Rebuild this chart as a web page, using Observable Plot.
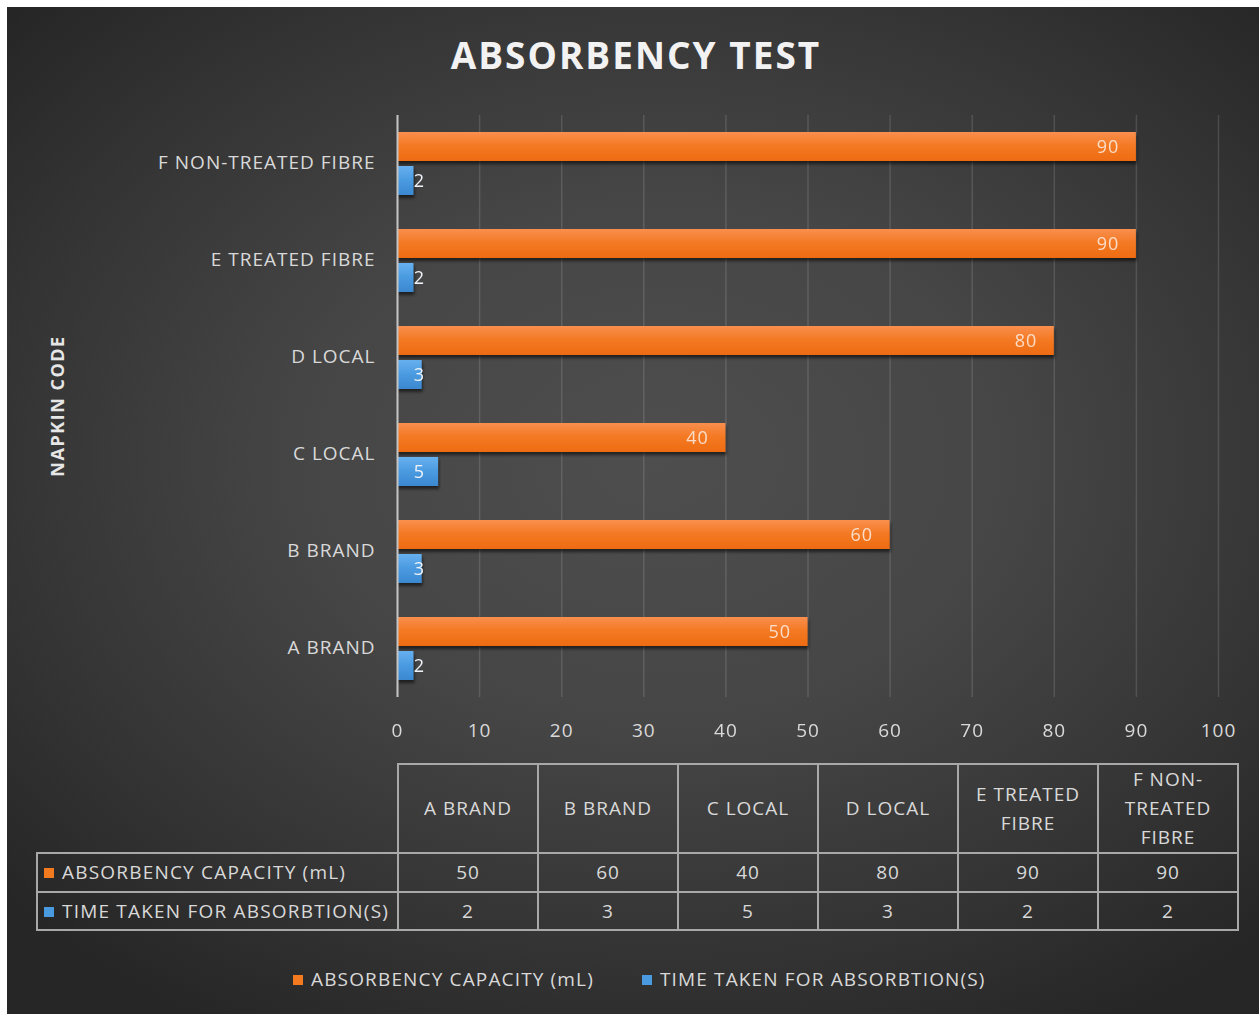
<!DOCTYPE html>
<html>
<head>
<meta charset="utf-8">
<script src="https://cdn.jsdelivr.net/npm/d3@7"></script>
<script src="https://cdn.jsdelivr.net/npm/@observablehq/plot@0.6"></script>
<style>
  html, body { margin: 0; padding: 0; background: #ffffff; }
  #chart {
    position: absolute; left: 7px; top: 7px; width: 1252px; height: 1007px; overflow: hidden;
    background: radial-gradient(ellipse 70% 65% at 52% 45%, #4e4e4e 0%, #464646 40%, #343434 75%, #262626 100%);
    font-family: "Open Sans", sans-serif; color: #d9d9d9;
  }
  #title {
    position: absolute; left: 0; width: 1258px; top: 26px; text-align: center;
    font-size: 37px; font-weight: 700; color: #f2f2f2; letter-spacing: 2px; line-height: 44px;
  }
  #ytitle {
    position: absolute; left: 50px; top: 399px; width: 0; height: 0;
  }
  #ytitle span {
    position: absolute; transform: translate(-50%, -50%) rotate(-90deg); white-space: nowrap;
    font-size: 18px; font-weight: 700; color: #e6e6e6; letter-spacing: 1.5px;
  }
  #plot { position: absolute; left: 0; top: 85px; }
  #table {
    position: absolute; left: 29px; top: 756px; border-collapse: collapse; table-layout: fixed;
    font-size: 19px; color: #d9d9d9; letter-spacing: 1px;
  }
  #table td { border: 2px solid #a8a8a8; text-align: center; padding: 0 6px; line-height: 29px; }
  #table td.corner { border-top: none; border-left: none; }
  #table tr.head td { height: 86px; }
  #table tr.r1 td { height: 37px; }
  #table tr.r2 td { height: 36px; }
  #table td.lab { text-align: left; padding-left: 6px; white-space: nowrap; letter-spacing: 1.2px; }
  .sw { display: inline-block; width: 10px; height: 10px; margin-right: 8px; vertical-align: 1px; }
  #legend {
    position: absolute; left: 286px; top: 958px; font-size: 19px; color: #d9d9d9; white-space: nowrap;
    line-height: 28px; letter-spacing: 1.15px;
  }
  #legend .item { display: inline-block; margin-right: 48px; }
</style>
</head>
<body>
<div id="chart">
  <div id="title"></div>
  <div id="ytitle"><span></span></div>
  <div id="plot"></div>
  <table id="table"></table>
  <div id="legend"></div>
</div>
<script>
// ---- data ----
const categories = ["A BRAND", "B BRAND", "C LOCAL", "D LOCAL", "E TREATED FIBRE", "F NON-TREATED FIBRE"];
const absorbency = [50, 60, 40, 80, 90, 90];
const timeTaken = [2, 3, 5, 3, 2, 2];
const seriesNames = ["ABSORBENCY CAPACITY (mL)", "TIME TAKEN FOR ABSORBTION(S)"];
const seriesKeys = ["cap", "time"];
const xTicks = [0, 10, 20, 30, 40, 50, 60, 70, 80, 90, 100];
const titleText = "ABSORBENCY TEST";
const yTitle = "NAPKIN CODE";

const orange = "#f47a20";
const blue = "#4a9ae0";

const data = categories.flatMap((c, i) => [
  {cat: c, s: "cap", v: absorbency[i]},
  {cat: c, s: "time", v: timeTaken[i]}
]);

document.getElementById("title").textContent = titleText;
document.querySelector("#ytitle span").textContent = yTitle;

const plot = Plot.plot({
  width: 1252,
  height: 650,
  marginLeft: 390,
  marginRight: 41,
  marginTop: 22,
  marginBottom: 45,
  style: {background: "transparent", color: "#d9d9d9", fontFamily: "Open Sans, sans-serif", fontSize: "19px", letterSpacing: "1px", overflow: "visible"},
  x: {domain: [0, 100]},
  fy: {domain: categories.slice().reverse(), padding: 0, label: null},
  y: {domain: seriesKeys, paddingInner: 0.145, paddingOuter: 0.483, axis: null},
  marks: [
    Plot.gridX(xTicks, {stroke: "#ffffff", strokeOpacity: 0.13, strokeWidth: 1.5}),
    Plot.barX(data.filter(d => d.s === "cap"), {y: "s", x: "v", fy: "cat", fill: "url(#gradO)"}),
    Plot.barX(data.filter(d => d.s === "time"), {y: "s", x: "v", fy: "cat", fill: "url(#gradB)"}),
    Plot.ruleX([0], {stroke: "#c4c4c4", strokeWidth: 2}),
    Plot.text(data.filter(d => d.s === "cap"), {y: "s", x: "v", fy: "cat", text: d => String(d.v), textAnchor: "end", dx: -17, fill: "#fbdcc6", fontSize: 18}),
    Plot.text(data.filter(d => d.s === "time"), {y: "s", x: 0, fy: "cat", text: d => String(d.v), textAnchor: "middle", dx: 22, fill: "#eef3fa", fontSize: 18}),
    Plot.axisFy({anchor: "left", tickSize: 0, tickPadding: 22, label: null, fontSize: 19, fill: "#d9d9d9", dy: -1}),
    Plot.axisX(xTicks, {anchor: "bottom", tickSize: 0, tickPadding: 26, label: null, fontSize: 19, fill: "#d9d9d9"})
  ]
});

// gradients and shadows
const svg = d3.select(plot);
const defs = svg.insert("defs", ":first-child");
const gO = defs.append("linearGradient").attr("id", "gradO").attr("x1", 0).attr("y1", 0).attr("x2", 0).attr("y2", 1);
gO.append("stop").attr("offset", "0%").attr("stop-color", "#f98f4e");
gO.append("stop").attr("offset", "45%").attr("stop-color", "#f47a25");
gO.append("stop").attr("offset", "100%").attr("stop-color", "#ee6b10");
const gB = defs.append("linearGradient").attr("id", "gradB").attr("x1", 0).attr("y1", 0).attr("x2", 0).attr("y2", 1);
gB.append("stop").attr("offset", "0%").attr("stop-color", "#67b0ef");
gB.append("stop").attr("offset", "50%").attr("stop-color", "#4a9ae0");
gB.append("stop").attr("offset", "100%").attr("stop-color", "#3b88d0");
const f = defs.append("filter").attr("id", "shadow").attr("x", "-5%").attr("y", "-20%").attr("width", "110%").attr("height", "160%");
f.append("feDropShadow").attr("dx", 1).attr("dy", 3).attr("stdDeviation", 1.5).attr("flood-color", "#000").attr("flood-opacity", 0.55);
svg.selectAll('g[aria-label="bar"]').attr("filter", "url(#shadow)");

document.getElementById("plot").appendChild(plot);

// data table
const table = d3.select("#table");
const colgroup = table.append("colgroup");
colgroup.append("col").style("width", "361px");
categories.forEach(() => colgroup.append("col").style("width", "140px"));
const head = table.append("tr").attr("class", "head");
head.append("td").attr("class", "corner");
categories.forEach(c => head.append("td").text(c));
const seriesVals = [absorbency, timeTaken];
const seriesColors = [orange, blue];
seriesNames.forEach((name, k) => {
  const tr = table.append("tr").attr("class", "r" + (k + 1));
  const td = tr.append("td").attr("class", "lab");
  td.append("span").attr("class", "sw").style("background", seriesColors[k]);
  td.append("span").text(name);
  seriesVals[k].forEach(v => tr.append("td").text(v));
});

// legend
const legend = d3.select("#legend");
seriesNames.forEach((name, k) => {
  const it = legend.append("span").attr("class", "item");
  it.append("span").attr("class", "sw").style("background", seriesColors[k]);
  it.append("span").text(name);
});
</script>
</body>
</html>
